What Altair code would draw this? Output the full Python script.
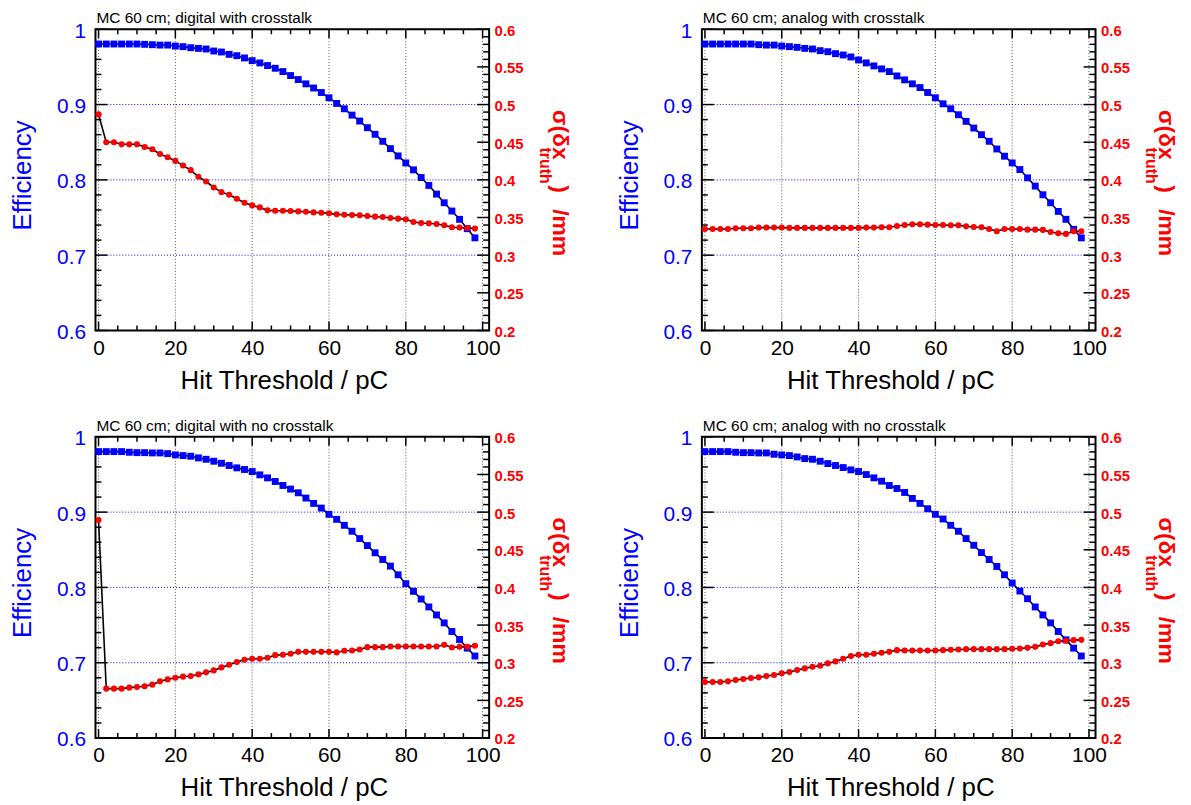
import altair as alt
import pandas as pd

# ---------------- data ----------------
THRESHOLD = [0, 2, 4, 6, 8, 10, 12, 14, 16, 18,
             20, 22, 24, 26, 28, 30, 32, 34, 36, 38,
             40, 42, 44, 46, 48, 50, 52, 54, 56, 58,
             60, 62, 64, 66, 68, 70, 72, 74, 76, 78,
             80, 82, 84, 86, 88, 90, 92, 94, 96, 98]

TITLES = ["MC 60 cm; digital with crosstalk",
          "MC 60 cm; analog with crosstalk",
          "MC 60 cm; digital with no crosstalk",
          "MC 60 cm; analog with no crosstalk"]

EFF_DIG_XT = [0.9804, 0.9804, 0.9804, 0.9804, 0.9804, 0.9804, 0.9800, 0.9795, 0.9790, 0.9790,
              0.9777, 0.9769, 0.9755, 0.9746, 0.9738, 0.9711, 0.9698, 0.9667, 0.9649, 0.9619,
              0.9583, 0.9553, 0.9518, 0.9482, 0.9438, 0.9385, 0.9332, 0.9275, 0.9220, 0.9160,
              0.9090, 0.9015, 0.8944, 0.8860, 0.8781, 0.8693, 0.8605, 0.8512, 0.8415, 0.8318,
              0.8225, 0.8133, 0.8031, 0.7926, 0.7811, 0.7696, 0.7586, 0.7476, 0.7352, 0.7230]
SIG_DIG_XT = [0.4869, 0.4499, 0.4499, 0.4472, 0.4472, 0.4472, 0.4437, 0.4406, 0.4344, 0.4300,
              0.4252, 0.4190, 0.4129, 0.4041, 0.3978, 0.3899, 0.3837, 0.3802, 0.3749, 0.3696,
              0.3661, 0.3634, 0.3595, 0.3590, 0.3590, 0.3586, 0.3581, 0.3577, 0.3568, 0.3564,
              0.3555, 0.3542, 0.3537, 0.3533, 0.3529, 0.3520, 0.3511, 0.3507, 0.3493, 0.3485,
              0.3476, 0.3441, 0.3427, 0.3423, 0.3414, 0.3397, 0.3370, 0.3366, 0.3361, 0.3353]

EFF_ANA_XT = [0.9804, 0.9804, 0.9804, 0.9804, 0.9804, 0.9804, 0.9804, 0.9795, 0.9790, 0.9790,
              0.9777, 0.9769, 0.9760, 0.9746, 0.9738, 0.9716, 0.9702, 0.9676, 0.9658, 0.9632,
              0.9592, 0.9553, 0.9513, 0.9473, 0.9438, 0.9380, 0.9328, 0.9275, 0.9226, 0.9160,
              0.9090, 0.9010, 0.8944, 0.8865, 0.8777, 0.8688, 0.8600, 0.8512, 0.8410, 0.8314,
              0.8225, 0.8137, 0.8027, 0.7917, 0.7802, 0.7696, 0.7581, 0.7476, 0.7343, 0.7230]
SIG_ANA_XT = [0.3348, 0.3348, 0.3348, 0.3348, 0.3357, 0.3357, 0.3357, 0.3366, 0.3366, 0.3366,
              0.3366, 0.3362, 0.3362, 0.3362, 0.3362, 0.3362, 0.3362, 0.3362, 0.3362, 0.3362,
              0.3362, 0.3366, 0.3366, 0.3370, 0.3370, 0.3388, 0.3401, 0.3410, 0.3410, 0.3405,
              0.3401, 0.3401, 0.3397, 0.3397, 0.3383, 0.3374, 0.3370, 0.3348, 0.3317, 0.3348,
              0.3348, 0.3348, 0.3339, 0.3339, 0.3335, 0.3308, 0.3291, 0.3282, 0.3317, 0.3317]

EFF_DIG_NX = [0.9804, 0.9804, 0.9804, 0.9804, 0.9795, 0.9790, 0.9790, 0.9786, 0.9786, 0.9777,
              0.9760, 0.9751, 0.9742, 0.9720, 0.9702, 0.9676, 0.9649, 0.9619, 0.9588, 0.9566,
              0.9539, 0.9495, 0.9455, 0.9407, 0.9354, 0.9306, 0.9257, 0.9187, 0.9116, 0.9054,
              0.8971, 0.8904, 0.8825, 0.8746, 0.8649, 0.8556, 0.8460, 0.8371, 0.8283, 0.8168,
              0.8050, 0.7948, 0.7846, 0.7741, 0.7635, 0.7529, 0.7415, 0.7309, 0.7194, 0.7089]
SIG_DIG_NX = [0.4896, 0.2656, 0.2656, 0.2656, 0.2669, 0.2678, 0.2687, 0.2709, 0.2753, 0.2779,
              0.2801, 0.2815, 0.2823, 0.2845, 0.2872, 0.2898, 0.2938, 0.2973, 0.3009, 0.3040,
              0.3053, 0.3053, 0.3066, 0.3101, 0.3106, 0.3119, 0.3145, 0.3145, 0.3145, 0.3145,
              0.3145, 0.3137, 0.3159, 0.3163, 0.3176, 0.3207, 0.3207, 0.3207, 0.3216, 0.3216,
              0.3216, 0.3216, 0.3216, 0.3216, 0.3216, 0.3238, 0.3203, 0.3211, 0.3211, 0.3225]

EFF_ANA_NX = [0.9804, 0.9804, 0.9804, 0.9804, 0.9795, 0.9790, 0.9790, 0.9786, 0.9786, 0.9769,
              0.9760, 0.9751, 0.9733, 0.9711, 0.9702, 0.9676, 0.9645, 0.9619, 0.9592, 0.9561,
              0.9539, 0.9499, 0.9455, 0.9411, 0.9354, 0.9314, 0.9261, 0.9182, 0.9116, 0.9045,
              0.8971, 0.8909, 0.8825, 0.8746, 0.8649, 0.8560, 0.8463, 0.8371, 0.8278, 0.8168,
              0.8059, 0.7952, 0.7850, 0.7741, 0.7635, 0.7529, 0.7415, 0.7304, 0.7194, 0.7089]
SIG_ANA_NX = [0.2744, 0.2744, 0.2744, 0.2753, 0.2771, 0.2784, 0.2797, 0.2806, 0.2823, 0.2837,
              0.2859, 0.2876, 0.2903, 0.2925, 0.2947, 0.2960, 0.2991, 0.3018, 0.3053, 0.3088,
              0.3106, 0.3106, 0.3119, 0.3132, 0.3145, 0.3167, 0.3163, 0.3163, 0.3163, 0.3163,
              0.3163, 0.3167, 0.3172, 0.3176, 0.3180, 0.3180, 0.3180, 0.3180, 0.3180, 0.3180,
              0.3185, 0.3189, 0.3198, 0.3211, 0.3242, 0.3260, 0.3286, 0.3291, 0.3300, 0.3304]

EFF_SERIES = [EFF_DIG_XT, EFF_ANA_XT, EFF_DIG_NX, EFF_ANA_NX]
SIG_SERIES = [SIG_DIG_XT, SIG_ANA_XT, SIG_DIG_NX, SIG_ANA_NX]

# axis tick values
X_MAJOR = [0, 20, 40, 60, 80, 100]
X_MINOR = [5, 10, 15, 25, 30, 35, 45, 50, 55, 65, 70, 75, 85, 90, 95]
EFF_MAJOR = [0.6, 0.7, 0.8, 0.9, 1.0]
EFF_MINOR = [0.62, 0.64, 0.66, 0.68, 0.72, 0.74, 0.76, 0.78,
             0.82, 0.84, 0.86, 0.88, 0.92, 0.94, 0.96, 0.98]
EFF_GRID = [0.7, 0.8, 0.9]
SIG_MAJOR = [0.2, 0.25, 0.3, 0.35, 0.4, 0.45, 0.5, 0.55, 0.6]
SIG_MINOR = [0.21, 0.22, 0.23, 0.24, 0.26, 0.27, 0.28, 0.29,
             0.31, 0.32, 0.33, 0.34, 0.36, 0.37, 0.38, 0.39,
             0.41, 0.42, 0.43, 0.44, 0.46, 0.47, 0.48, 0.49,
             0.51, 0.52, 0.53, 0.54, 0.56, 0.57, 0.58, 0.59]

# ---------------- styling ----------------
W, H = 396, 303
FONT = "Liberation Sans"
BLUE = "#0000ff"
RED = "#ff0000"

x_scale = alt.Scale(domain=[-0.8, 101.7], nice=False, zero=False)
eff_scale = alt.Scale(domain=[0.6, 1.0], nice=False, zero=False)
sig_scale = alt.Scale(domain=[0.2, 0.6], nice=False, zero=False)

x_axis = alt.Axis(values=X_MAJOR, format="d", title="Hit Threshold / pC",
                  ticks=False, domain=False, grid=False,
                  labelFont=FONT, labelFontSize=21, labelColor="black",
                  labelPadding=7, labelFlush=False, labelOverlap=False,
                  titleFont=FONT, titleFontSize=26, titleFontWeight="normal",
                  titleColor="black", titleX=189.5, titleY=58,
                  titleAlign="center", titleBaseline="alphabetic")

eff_axis = alt.Axis(values=EFF_MAJOR, format="~g", orient="left", title="Efficiency",
                    ticks=False, domain=False, grid=False,
                    labelFont=FONT, labelFontSize=21, labelColor=BLUE,
                    labelPadding=10, labelOffset=2, labelOverlap=False,
                    titleFont=FONT, titleFontSize=26, titleFontWeight="normal",
                    titleColor=BLUE, titleAngle=270, titleX=-65, titleY=146.5,
                    titleAlign="center", titleBaseline="alphabetic")

sig_axis = alt.Axis(values=SIG_MAJOR, format="~g", orient="right", title=None,
                    ticks=False, domain=False, grid=False,
                    labelFont=FONT, labelFontSize=15, labelFontWeight="bold",
                    labelColor=RED, labelPadding=5, labelOffset=1, labelOverlap=False)


def X(field):
    return alt.X(f"{field}:Q", scale=x_scale, axis=x_axis)


def YE(field):
    return alt.Y(f"{field}:Q", scale=eff_scale, axis=eff_axis)


def YS(field):
    return alt.Y(f"{field}:Q", scale=sig_scale, axis=sig_axis)


def vals(lst):
    return pd.DataFrame({"v": lst})


ONE = pd.DataFrame({"v": [0]})


def panel(title, eff, sig):
    df = pd.DataFrame({"t": THRESHOLD, "eff": eff, "sig": sig})

    vgrid = alt.Chart(vals(X_MAJOR)).mark_rule(
        color="#555555", strokeDash=[1, 2], strokeWidth=1
    ).encode(x=X("v"), y=alt.value(0), y2=alt.value(H))
    hgrid = alt.Chart(vals(EFF_GRID)).mark_rule(
        color=BLUE, strokeDash=[1, 2], strokeWidth=1
    ).encode(y=YE("v"), x=alt.value(0), x2=alt.value(W))

    xb_major = alt.Chart(vals(X_MAJOR)).mark_rule(color="black", strokeWidth=1.5).encode(
        x=X("v"), y=alt.value(H), y2=alt.value(H - 9))
    xt_major = alt.Chart(vals(X_MAJOR)).mark_rule(color="black", strokeWidth=1.5).encode(
        x=X("v"), y=alt.value(0), y2=alt.value(9))
    xb_minor = alt.Chart(vals(X_MINOR)).mark_rule(color="black", strokeWidth=1.5).encode(
        x=X("v"), y=alt.value(H), y2=alt.value(H - 5))
    xt_minor = alt.Chart(vals(X_MINOR)).mark_rule(color="black", strokeWidth=1.5).encode(
        x=X("v"), y=alt.value(0), y2=alt.value(5))

    el_major = alt.Chart(vals(EFF_MAJOR)).mark_rule(color="black", strokeWidth=1.5).encode(
        y=YE("v"), x=alt.value(0), x2=alt.value(12))
    el_minor = alt.Chart(vals(EFF_MINOR)).mark_rule(color="black", strokeWidth=1.5).encode(
        y=YE("v"), x=alt.value(0), x2=alt.value(6))

    eff_line = alt.Chart(df).mark_line(color="black", strokeWidth=1.6).encode(
        x=X("t"), y=YE("eff"))
    eff_pts = alt.Chart(df).mark_square(color=BLUE, size=48, opacity=1).encode(
        x=X("t"), y=YE("eff"))

    sr_major = alt.Chart(vals(SIG_MAJOR)).mark_rule(color="black", strokeWidth=1.5).encode(
        y=YS("v"), x=alt.value(W), x2=alt.value(W - 12))
    sr_minor = alt.Chart(vals(SIG_MINOR)).mark_rule(color="black", strokeWidth=1.5).encode(
        y=YS("v"), x=alt.value(W), x2=alt.value(W - 6))

    sig_line = alt.Chart(df).mark_line(color="black", strokeWidth=1.6).encode(
        x=X("t"), y=YS("sig"))
    sig_pts = alt.Chart(df).mark_circle(color=RED, size=38, opacity=1).encode(
        x=X("t"), y=YS("sig"))

    def rtext(txt, size, xpos, ypos):
        return alt.Chart(ONE).mark_text(
            text=txt, angle=90, align="left", baseline="alphabetic",
            font=FONT, fontSize=size, fontWeight="bold", color=RED
        ).encode(x=alt.value(xpos), y=alt.value(ypos))

    t1 = rtext("σ(δx", 23, W + 64, 81)
    t2 = rtext("truth", 16, W + 51, 119)
    t3 = rtext(")", 23, W + 64, 157)
    t4 = rtext("/mm", 23, W + 64, 181)

    ptitle = alt.Chart(ONE).mark_text(
        text=title, align="left", baseline="alphabetic",
        font=FONT, fontSize=15.5, color="black"
    ).encode(x=alt.value(1), y=alt.value(-6))

    eff_layer = alt.layer(vgrid, hgrid, xb_major, xt_major, xb_minor, xt_minor,
                          el_major, el_minor, eff_line, eff_pts)
    sig_layer = alt.layer(sr_major, sr_minor, sig_line, sig_pts, t1, t2, t3, t4, ptitle)

    return alt.layer(eff_layer, sig_layer).resolve_scale(y="independent").properties(
        width=W, height=H)


panels = [panel(TITLES[i], EFF_SERIES[i], SIG_SERIES[i]) for i in range(4)]

chart = alt.concat(
    *panels, columns=2, spacing={"row": 107, "column": 214}, bounds="flush"
).properties(
    padding={"left": 1, "top": 0, "right": 5, "bottom": 5}
).configure_view(stroke="black", strokeWidth=2)

chart.save("out.html", embed_options={"renderer": "svg", "actions": False})
